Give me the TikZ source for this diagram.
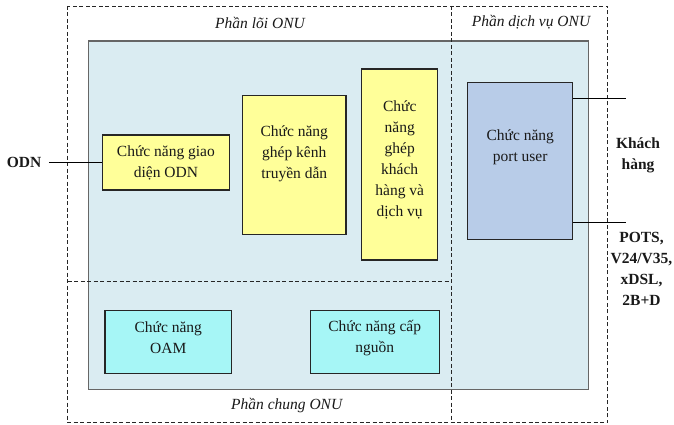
\documentclass[tikz,border=0pt]{standalone}
\usepackage{fontspec}
\setmainfont{Liberation Serif}
\usetikzlibrary{positioning}

\definecolor{panelblue}{HTML}{DAECF2}
\definecolor{funcyellow}{HTML}{FFFF99}
\definecolor{funccyan}{HTML}{A6F6F6}
\definecolor{portblue}{HTML}{B8CCE8}

\tikzset{
  txt/.style={align=center, inner sep=0pt, text=black!90,
    font=\fontsize{15.5}{21}\selectfont},
  part/.style={txt, font=\fontsize{15.5}{21}\selectfont\itshape},
  ext/.style={txt, font=\fontsize{15.5}{21}\selectfont\bfseries},
  funcbox/.style={draw=black!85, line width=1.1pt, inner sep=0pt},
  region/.style={draw=black!85, line width=0.9pt, dash pattern=on 4pt off 2.5pt},
  wire/.style={draw=black, line width=1.6pt},
}

\begin{document}
\begin{tikzpicture}[x=1pt, y=-1pt]
  \useasboundingbox (0,0) rectangle (674,425);

  % khung nen ONU
  \draw[fill=panelblue, draw=black!60, line width=1.2pt] (88.3,41) rectangle (588.5,389.3);

  % ranh gioi cac phan
  \draw[region] (67.7,6) rectangle (607.7,422.7);
  \draw[region] (451.7,6) -- (451.7,422.7);
  \draw[region] (67.7,281) -- (451.7,281);

  \node[part] (core-t) at (260,22.5) {Phần lõi ONU};
  \node[part] (svc-t) at (531,22) {Phần dịch vụ ONU};
  \node[part] (common-t) at (286.7,406) {Phần chung ONU};

  % cac khoi chuc nang
  \node[funcbox, fill=funcyellow, minimum width=126.3pt, minimum height=55pt] (odnif) at (165.9,162.5) {};
  \node[txt] (odnif-t) at (odnif) {Chức năng giao\\diện ODN};

  \node[funcbox, fill=funcyellow, minimum width=103.3pt, minimum height=139pt] (mux) at (294.3,164.7) {};
  \node[txt] (mux-t) at (294.3,154) {Chức năng\\ghép kênh\\truyền dẫn};

  \node[funcbox, fill=funcyellow, minimum width=76pt, minimum height=191pt] (svcmux) at (399.7,164.5) {};
  \node[txt] (svcmux-t) at (399.7,160) {Chức\\năng\\ghép\\khách\\hàng và\\dịch vụ};

  \node[funcbox, fill=portblue, minimum width=105pt, minimum height=156.6pt] (port) at (520.2,161) {};
  \node[txt] (port-t) at (520.2,147) {Chức năng\\port user};

  \node[funcbox, fill=funccyan, minimum width=126.7pt, minimum height=62.6pt] (oam) at (168.3,342) {};
  \node[txt] (oam-t) at (168.3,338) {Chức năng\\OAM};

  \node[funcbox, fill=funccyan, minimum width=129.3pt, minimum height=62.6pt] (power) at (374.7,342) {};
  \node[txt] (power-t) at (374.7,338) {Chức năng cấp\\nguồn};

  % giao dien ben ngoai
  \node[ext] (odn) at (24,162.5) {ODN};
  \draw[wire] (odn.east) [shorten <=7.5pt] -- (odnif.west);

  \coordinate (cust-a) at (625.7,98.7);
  \coordinate (cust-b) at (625.7,222.3);
  \draw[wire] (port.east |- cust-a) -- (cust-a);
  \draw[wire] (port.east |- cust-b) -- (cust-b);

  \node[ext] (cust) at (638,155.5) {Khách\\hàng};
  \node[ext] (ifaces) at (641.5,269) {POTS,\\V24/V35,\\xDSL,\\2B+D};
\end{tikzpicture}
\end{document}
